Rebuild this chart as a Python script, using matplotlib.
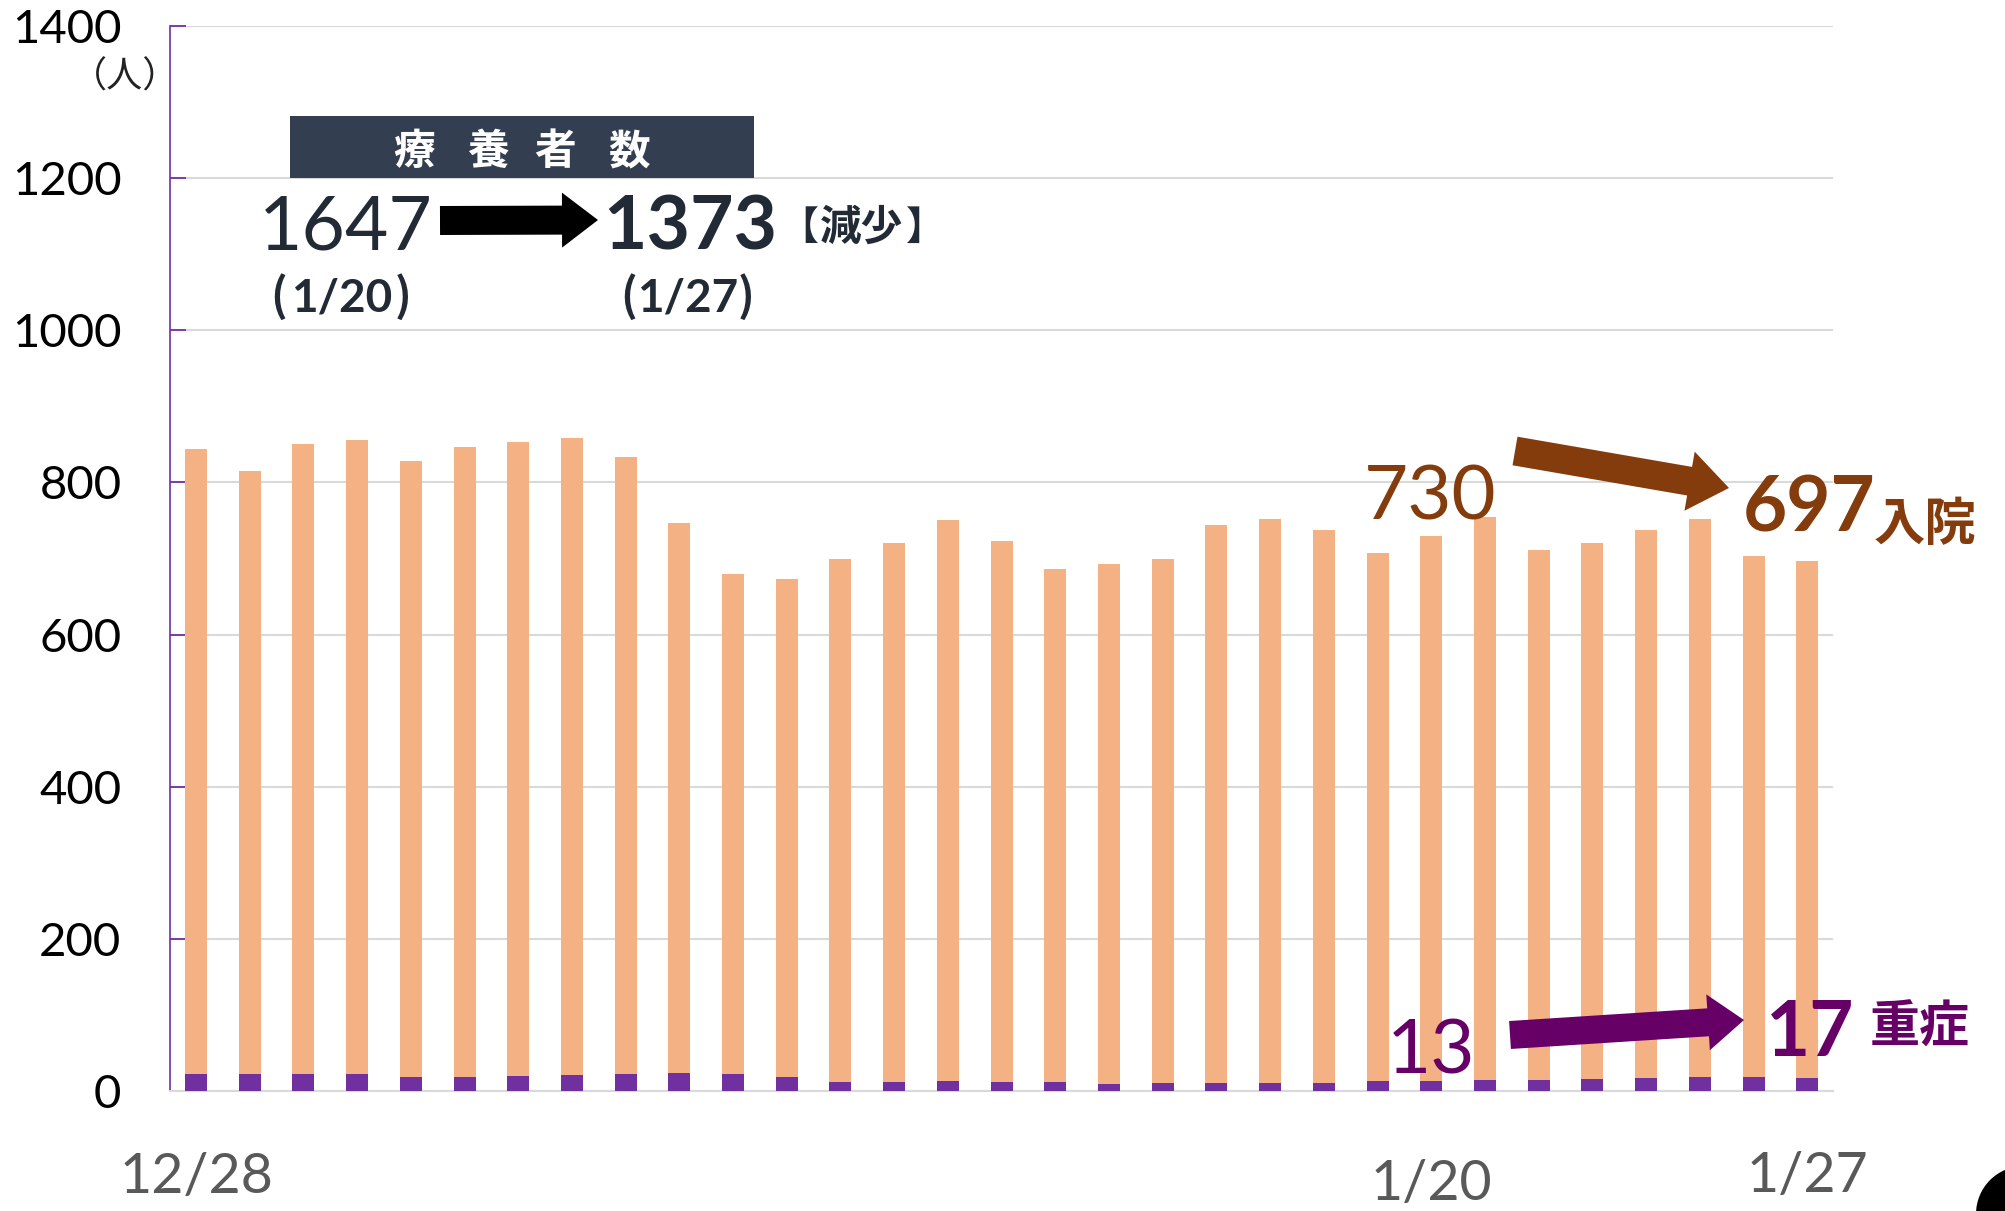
import matplotlib
matplotlib.use('Agg')
import matplotlib.pyplot as plt
from matplotlib import transforms
from matplotlib.patches import FancyArrow, Rectangle, Circle

# ---------------- data ----------------
dates = ['12/28', '12/29', '12/30', '12/31',
         '1/1', '1/2', '1/3', '1/4', '1/5', '1/6', '1/7', '1/8', '1/9', '1/10',
         '1/11', '1/12', '1/13', '1/14', '1/15', '1/16', '1/17', '1/18', '1/19',
         '1/20', '1/21', '1/22', '1/23', '1/24', '1/25', '1/26', '1/27']
hospitalized = [844, 815, 851, 856, 828, 847, 853, 859, 833, 747, 679, 673, 699,
                721, 750, 723, 686, 693, 699, 744, 752, 738, 707, 730, 755, 711,
                720, 737, 752, 703, 697]
severe = [23, 23, 23, 23, 19, 19, 20, 21, 23, 24, 23, 19, 12, 12, 13, 12, 12, 9,
          10, 10, 10, 10, 13, 13, 14, 14, 16, 17, 18, 18, 17]
shown_ticks = ['12/28', '1/20', '1/27']
yticks = [0, 200, 400, 600, 800, 1000, 1200, 1400]

NUM = ['Lato', 'Noto Sans CJK JP', 'DejaVu Sans']
JP = ['Noto Sans CJK JP', 'Lato', 'DejaVu Sans']
plt.rcParams['font.family'] = NUM

W, H = 2006, 1211
fig = plt.figure(figsize=(W / 100, H / 100), dpi=100)
fig.patch.set_facecolor('white')
# pixel transform (origin top-left)
T = transforms.Affine2D().scale(1, -1).translate(0, H)

ax_l, ax_r, ax_t, ax_b = 170, 1833, 26, 1091
ax = fig.add_axes([ax_l / W, 1 - ax_b / H, (ax_r - ax_l) / W, (ax_b - ax_t) / H])

x = list(range(len(dates)))
ax.bar(x, hospitalized, width=0.41, color='#F4B183', zorder=2)
ax.bar(x, severe, width=0.41, color='#7030A0', zorder=3)

ax.set_xlim(-0.484, 30.48)
ax.set_ylim(0, 1400)
ax.set_yticks(yticks)
ax.set_yticklabels([str(v) for v in yticks])
ax.tick_params(axis='y', direction='in', length=11.5, width=1.3, color='#7030A0',
               pad=35, labelsize=34, labelcolor='black')
ax.set_xticks([])
ax.yaxis.grid(True, color='#D9D9D9', lw=1.5, zorder=0)
ax.set_axisbelow(True)
for s in ['top', 'right']:
    ax.spines[s].set_visible(False)
ax.spines['left'].set_color('#7030A0')
ax.spines['left'].set_linewidth(1.2)
ax.spines['bottom'].set_color('#D9D9D9')
ax.spines['bottom'].set_linewidth(1.5)

# x labels
xl_tr = transforms.blended_transform_factory(ax.transData, T)
for lab, base in zip(shown_ticks, [1193, 1200, 1192]):
    ax.text(dates.index(lab), base, lab, transform=xl_tr, ha='center', va='baseline',
            fontsize=40, color='#595959', family=NUM, clip_on=False)

# unit label
fig.text(125, 88, '（人）', transform=T, ha='center', va='baseline', fontsize=26,
         color='#222222', family=JP)

# title box
fig.add_artist(Rectangle((290, 116), 464, 62, transform=T, color='#333F50', lw=0))
for ch, cx in zip('療養者数', [414, 488, 555, 629]):
    fig.text(cx, 164, ch, transform=T, ha='center', va='baseline', fontsize=30,
             color='white', fontweight='bold', family=JP)

navy = '#222A35'
fig.text(346, 250, '1647', transform=T, ha='center', va='baseline', fontsize=54,
         color=navy, family=NUM)
t1373 = fig.text(690, 250, '1373', transform=T, ha='center', va='baseline',
                 fontsize=54, color=navy, fontweight='bold', family=NUM)
fig.canvas.draw()
right_1373 = t1373.get_window_extent().x1
fig.text(right_1373 + 2, 240, '【', transform=T, ha='left', va='baseline',
         fontsize=28, color=navy, fontweight='bold', family=JP)
fig.text(861, 240, '減少', transform=T, ha='center', va='baseline', fontsize=30,
         color=navy, fontweight='bold', family=JP)
fig.text(906, 240, '】', transform=T, ha='left', va='baseline', fontsize=28,
         color=navy, fontweight='bold', family=JP)

# dates under the numbers
for txt, cx, xr, xlft in [('1/20', 342, 287, 395), ('1/27', 688, 637, 738)]:
    fig.text(cx, 311, txt, transform=T, ha='center', va='baseline', fontsize=33,
             color=navy, fontweight='bold', family=NUM)
    fig.text(xr, 311, '(', transform=T, ha='right', va='baseline', fontsize=32,
             color=navy, fontweight='bold', family=JP)
    fig.text(xlft, 311, ')', transform=T, ha='left', va='baseline', fontsize=32,
             color=navy, fontweight='bold', family=JP)

fig.add_artist(FancyArrow(440, 220.5, 158, -0.5, width=29, head_width=55,
                          head_length=36, length_includes_head=True,
                          transform=T, color='black', lw=0))

# hospitalized annotation
brown = '#843C0C'
fig.text(1430, 520, '730', transform=T, ha='center', va='baseline', fontsize=55,
         color=brown, family=NUM)
fig.add_artist(FancyArrow(1515, 451, 214, 37, width=29, head_width=60,
                          head_length=40, length_includes_head=True,
                          transform=T, color=brown, lw=0))
fig.text(1809, 532, '697', transform=T, ha='center', va='baseline', fontsize=55,
         color=brown, fontweight='bold', family=NUM)
fig.text(1874, 540, '入院', transform=T, ha='left', va='baseline', fontsize=37,
         color=brown, fontweight='bold', family=JP)

# severe annotation
purple = '#660066'
fig.text(1431, 1073, '13', transform=T, ha='center', va='baseline', fontsize=55,
         color=purple, family=NUM)
fig.add_artist(FancyArrow(1510, 1035, 234, -15, width=28, head_width=56,
                          head_length=36, length_includes_head=True,
                          transform=T, color=purple, lw=0))
fig.text(1810, 1056, '17', transform=T, ha='center', va='baseline', fontsize=55,
         color=purple, fontweight='bold', family=NUM)
fig.text(1870, 1043, '重症', transform=T, ha='left', va='baseline', fontsize=36,
         color=purple, fontweight='bold', family=JP)

# page badge (cut off at corner)
fig.add_artist(Circle((2024, 1214), 48, transform=T, color='black', lw=0))

fig.savefig('out.png', dpi=100, facecolor='white')
